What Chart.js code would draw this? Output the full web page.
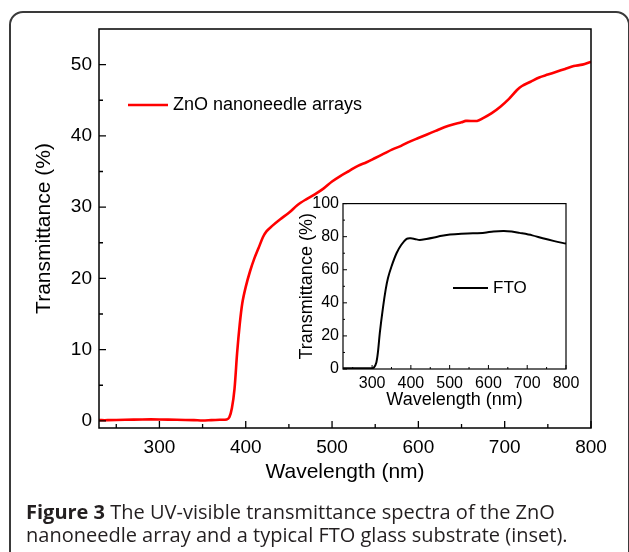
<!DOCTYPE html>
<html>
<head>
<meta charset="utf-8">
<script src="https://cdn.jsdelivr.net/npm/chart.js@4.4.1/dist/chart.umd.min.js"></script>
<style>
  html, body { margin: 0; padding: 0; background: #fff; }
  body { width: 629px; height: 552px; position: relative; overflow: hidden; }
  #frame {
    position: absolute; left: 9px; top: 11px; width: 621px; height: 600px;
    box-sizing: border-box; border: 2px solid #3a3a3a; border-radius: 14px;
  }
  #main { position: absolute; left: 0; top: 0; }
  #inset { position: absolute; left: 290px; top: 190px; }
  #caption {
    position: absolute; left: 26px; top: 500px; width: 600px;
    font-family: "Open Sans", sans-serif; font-size: 20px; line-height: 23px;
    color: #231f20; white-space: nowrap;
  }
  #caption b { font-weight: 700; }
</style>
</head>
<body>
<div id="frame"></div>
<canvas id="main" width="629" height="500"></canvas>
<canvas id="inset" width="300" height="230"></canvas>
<div id="caption"><b>Figure 3</b> The UV-visible transmittance spectra of the ZnO<br>nanoneedle array and a typical FTO glass substrate (inset).</div>
<script>
// ZnO nanoneedle arrays (main plot)
const znoWavelength = [230, 240, 260, 280, 300, 320, 340, 350, 360, 370, 378, 381, 384, 387, 390, 393, 396, 400, 405, 410, 415, 420, 424, 430, 440, 450, 460, 470, 480, 490, 500, 510, 520, 530, 540, 550, 560, 570, 580, 590, 600, 610, 620, 630, 640, 650, 655, 668, 675, 685, 695, 705, 714, 720, 730, 740, 750, 760, 770, 780, 790, 800];
const znoTransmittance = [0.1, 0.1, 0.15, 0.2, 0.2, 0.15, 0.1, 0.05, 0.1, 0.15, 0.2, 0.5, 1.8, 4.5, 9.5, 13.5, 16.5, 18.8, 21, 22.8, 24.3, 25.8, 26.6, 27.3, 28.3, 29.2, 30.3, 31.1, 31.8, 32.6, 33.6, 34.4, 35.1, 35.8, 36.3, 36.9, 37.5, 38.1, 38.6, 39.2, 39.7, 40.2, 40.7, 41.2, 41.6, 41.9, 42.1, 42.1, 42.5, 43.2, 44.1, 45.2, 46.4, 47.0, 47.6, 48.2, 48.6, 49.0, 49.4, 49.8, 50.0, 50.4];

// FTO glass substrate (inset)
const ftoWavelength = [225, 250, 275, 300, 305, 311, 315, 320, 328, 335, 341, 350, 363, 375, 389, 400, 410, 423, 440, 460, 480, 501, 530, 560, 590, 613, 640, 660, 680, 713, 740, 770, 800];
const ftoTransmittance = [0.5, 0.5, 0.5, 0.5, 1, 4, 10, 22, 37, 48, 55, 62, 70, 75, 78.7, 79, 78.6, 78, 78.6, 79.5, 80.5, 81.3, 81.8, 82, 82.4, 83.2, 83.5, 83.1, 82.3, 80.8, 79, 77.3, 75.8];

const mainXTicks = [300, 400, 500, 600, 700, 800];
const mainXMinor = [250, 350, 450, 550, 650, 750];
const mainYTicks = [0, 10, 20, 30, 40, 50];
const mainYMinor = [5, 15, 25, 35, 45];
const insetXTicks = [300, 400, 500, 600, 700, 800];
const insetXMinor = [250, 350, 450, 550, 650, 750];
const insetYTicks = [0, 20, 40, 60, 80, 100];
const insetYMinor = [10, 30, 50, 70, 90];

const FONT = '"Liberation Sans", Arial, sans-serif';

function toPoints(xs, ys) {
    return xs.map((x, i) => ({ x: x, y: ys[i] }));
}

// box + inward ticks + a legend placed inside the plot
function frameTicks(cfg) {
    return {
        id: 'frameTicks',
        afterDraw(chart) {
            const ctx = chart.ctx;
            const a = chart.chartArea;
            const xs = chart.scales.x, ys = chart.scales.y;
            ctx.save();
            ctx.strokeStyle = '#000';
            ctx.lineWidth = cfg.boxWidth;
            ctx.strokeRect(a.left, a.top, a.right - a.left, a.bottom - a.top);
            ctx.lineWidth = cfg.tickWidth;
            ctx.beginPath();
            cfg.xMajor.forEach(v => {
                const px = xs.getPixelForValue(v);
                ctx.moveTo(px, a.bottom); ctx.lineTo(px, a.bottom - cfg.major);
            });
            cfg.xMinor.forEach(v => {
                const px = xs.getPixelForValue(v);
                ctx.moveTo(px, a.bottom); ctx.lineTo(px, a.bottom - cfg.minor);
            });
            cfg.yMajor.forEach(v => {
                const py = ys.getPixelForValue(v);
                ctx.moveTo(a.left, py); ctx.lineTo(a.left + cfg.major, py);
            });
            cfg.yMinor.forEach(v => {
                const py = ys.getPixelForValue(v);
                ctx.moveTo(a.left, py); ctx.lineTo(a.left + cfg.minor, py);
            });
            ctx.stroke();

            // legend
            const ds = chart.data.datasets[0];
            ctx.strokeStyle = ds.borderColor;
            ctx.lineWidth = ds.borderWidth;
            ctx.beginPath();
            ctx.moveTo(cfg.legend.x1, cfg.legend.y);
            ctx.lineTo(cfg.legend.x2, cfg.legend.y);
            ctx.stroke();
            ctx.fillStyle = '#000';
            ctx.font = cfg.legend.size + 'px ' + FONT;
            ctx.textBaseline = 'middle';
            ctx.textAlign = 'left';
            ctx.fillText(ds.label, cfg.legend.x2 + cfg.legend.gap, cfg.legend.y);
            ctx.restore();
        }
    };
}

function axisOptions(min, max, ticks, tickSize, tickPad, title, titleSize, titlePad, fitSize, horizontal) {
    return {
        type: 'linear',
        min: min,
        max: max,
        afterBuildTicks: s => { s.ticks = ticks.map(v => ({ value: v })); },
        afterFit: s => { if (horizontal) s.height = fitSize; else s.width = fitSize; },
        grid: { display: false, drawTicks: false },
        border: { display: false },
        ticks: {
            color: '#000',
            padding: tickPad,
            maxRotation: 0,
            autoSkip: false,
            font: { family: FONT, size: tickSize }
        },
        title: {
            display: true,
            text: title,
            color: '#000',
            padding: titlePad,
            font: { family: FONT, size: titleSize }
        }
    };
}

new Chart(document.getElementById('main'), {
    type: 'line',
    data: {
        datasets: [{
            label: 'ZnO nanoneedle arrays',
            data: toPoints(znoWavelength, znoTransmittance),
            borderColor: '#ff0000',
            borderWidth: 2.6,
            pointRadius: 0,
            tension: 0.3,
            fill: false
        }]
    },
    options: {
        responsive: false,
        animation: false,
        layout: { padding: { left: 0, top: 29, right: 38, bottom: 0 } },
        plugins: { legend: { display: false }, tooltip: { enabled: false } },
        scales: {
            x: axisOptions(230, 800, mainXTicks, 19, 8, 'Wavelength (nm)', 21, { top: 0, bottom: 15 }, 72, true),
            y: axisOptions(-1, 55, mainYTicks, 19, 7, 'Transmittance (%)', 21, { top: 32, bottom: 0 }, 99, false)
        }
    },
    plugins: [frameTicks({
        boxWidth: 1.5, tickWidth: 1.3, major: 7, minor: 4,
        xMajor: mainXTicks, xMinor: mainXMinor, yMajor: mainYTicks, yMinor: mainYMinor,
        legend: { x1: 128, x2: 168, y: 105, gap: 5, size: 18 }
    })]
});

new Chart(document.getElementById('inset'), {
    type: 'line',
    data: {
        datasets: [{
            label: 'FTO',
            data: toPoints(ftoWavelength, ftoTransmittance),
            borderColor: '#000000',
            borderWidth: 2,
            pointRadius: 0,
            tension: 0.3,
            fill: false
        }]
    },
    options: {
        responsive: false,
        animation: false,
        layout: { padding: { left: 0, top: 11, right: 24, bottom: 0 } },
        plugins: { legend: { display: false }, tooltip: { enabled: false } },
        scales: {
            x: axisOptions(225, 800, insetXTicks, 16, 5, 'Wavelength (nm)', 18, { top: 0, bottom: 9 }, 51, true),
            y: axisOptions(0, 100, insetYTicks, 16, 4, 'Transmittance (%)', 18, { top: 6, bottom: 0 }, 53, false)
        }
    },
    plugins: [frameTicks({
        boxWidth: 1.2, tickWidth: 1, major: 4, minor: 2,
        xMajor: insetXTicks, xMinor: insetXMinor, yMajor: insetYTicks, yMinor: insetYMinor,
        legend: { x1: 163, x2: 198, y: 98, gap: 5, size: 17 }
    })]
});
</script>
</body>
</html>
